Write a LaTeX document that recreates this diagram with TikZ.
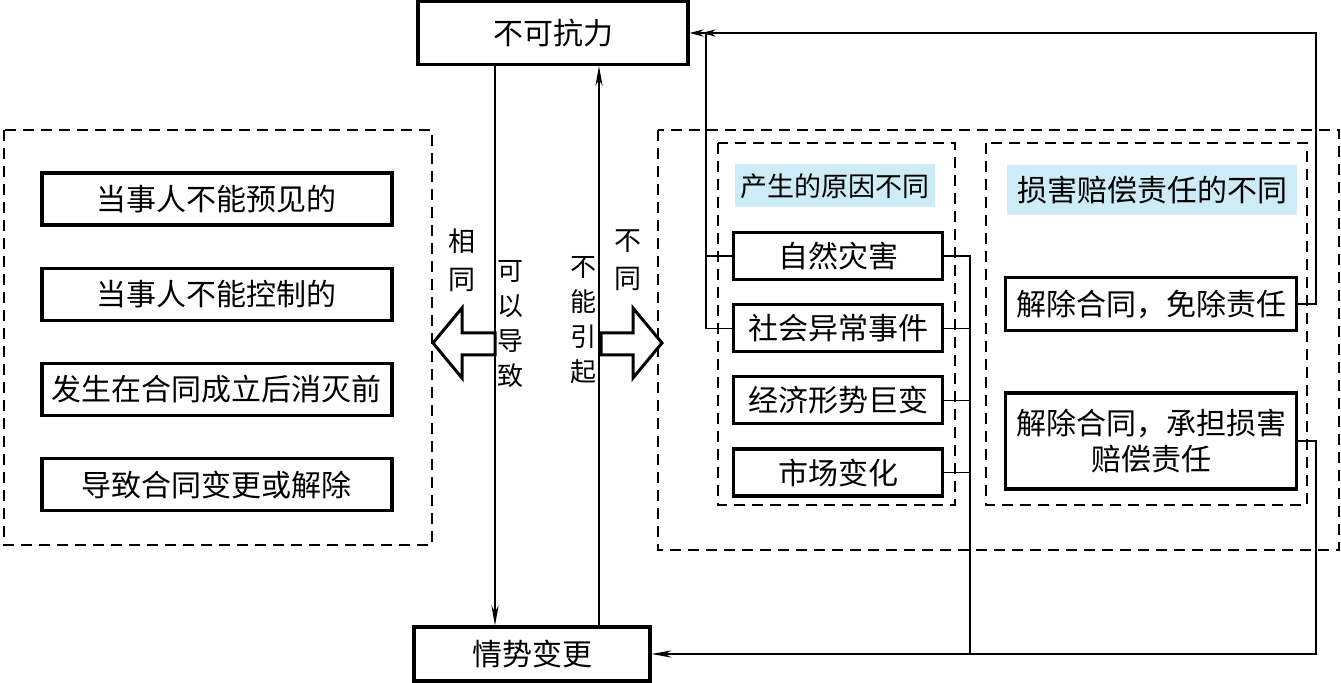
\documentclass[tikz,border=0pt]{standalone}
\usepackage{fontspec}
\setmainfont{Noto Sans CJK SC}
\usetikzlibrary{arrows.meta,positioning}
\definecolor{hdrblue}{RGB}{206,236,247}

\begin{document}
\begin{tikzpicture}[
  x=0.5pt,y=-0.5pt,
  box/.style={draw,line width=1.6pt,inner sep=0pt,font=\fontsize{15}{18}\selectfont},
  item/.style={box,minimum width=175pt,minimum height=26pt},
  cause/.style={box,minimum width=104.5pt,minimum height=23.5pt},
  result/.style={box,minimum width=145.5pt,align=center},
  header/.style={fill=hdrblue,inner sep=0pt},
  group/.style={draw,line width=.6pt,dash pattern=on 5.5pt off 3.5pt},
  link/.style={line width=.6pt},
  tip/.style={-{Stealth[length=10pt,width=3.6pt]}},
  dtip/.style={-{Stealth[length=7pt,width=3.6pt,sep=-1pt] Stealth[length=7pt,width=3.6pt]}},
  hollow/.style={draw,line width=1.5pt,line join=miter},
  vlabel/.style={align=center,inner sep=0pt,font=\fontsize{13}{17.5}\selectfont}
]
  \useasboundingbox (0,0) rectangle (1341,683);

  \node[box,minimum width=135pt,minimum height=31.5pt] (force) at (553,33) {不可抗力};
  \node[box,minimum width=118pt,minimum height=27pt] (change) at (532,654) {情势变更};

  % common features
  \draw[group] (4,130) rectangle (432,545);
  \node[item] (foresee) at (217,199) {当事人不能预见的};
  \node[item,below=20pt of foresee] (control) {当事人不能控制的};
  \node[item,below=20pt of control] (period) {发生在合同成立后消灭前};
  \node[item,below=20pt of period] (outcome) {导致合同变更或解除};

  % differences
  \draw[group] (658,130) rectangle (1339,550);
  \draw[group] (718,143) rectangle (955,505);
  \draw[group] (986,143) rectangle (1307,505);
  \node[header,minimum width=100pt,minimum height=21.5pt,
        font=\fontsize{13.5}{16}\selectfont] (why) at (835,186) {产生的原因不同};
  \node[header,minimum width=145pt,minimum height=25pt,
        font=\fontsize{15}{18}\selectfont] (duty) at (1152,190) {损害赔偿责任的不同};

  \node[cause] (nature) at (838,256) {自然灾害};
  \node[cause,below=11pt of nature] (society) {社会异常事件};
  \node[cause,below=11pt of society] (economy) {经济形势巨变};
  \node[cause,below=11pt of economy] (market) {市场变化};

  \node[result,minimum height=26.5pt] (exempt) at (1151,304) {解除合同，免除责任};
  \node[result,minimum height=48pt] (liable) at (1151,441) {解除合同，承担损害\\赔偿责任};

  % vertical labels
  \node[vlabel,font=\fontsize{13.5}{19}\selectfont] (same) at (462,260) {相\\同};
  \node[vlabel] (cancause) at (510,324) {可\\以\\导\\致};
  \node[vlabel] (cannot) at (583,320) {不\\能\\引\\起};
  \node[vlabel,font=\fontsize{13.5}{19}\selectfont] (differ) at (628,260) {不\\同};

  \coordinate (down) at (495,0);
  \coordinate (up) at (599,0);
  \coordinate (lj) at (706,0);
  \coordinate (mj) at (970,0);
  \coordinate (rj) at (1316,0);

  \draw[link,tip] (down |- force.south) -- (down |- change.north);
  \draw[link,tip] (up |- change.north) -- (up |- force.south);

  \draw[hollow] (495,333) -- (462,333) -- (462,308) -- (433,343)
    -- (462,378) -- (462,355) -- (495,355) -- cycle;
  \draw[hollow] (601,333) -- (633,333) -- (633,308) -- (662,343)
    -- (633,378) -- (633,355) -- (601,355) -- cycle;

  \draw[link,dtip] (exempt.east) -| (rj |- force.east) -- (force.east);
  \draw[link] (society.west) -| (lj |- force.east);
  \draw[link] (nature.west) -- (nature.west -| lj);

  \draw[link] (nature.east) -| (mj |- change.east);
  \foreach \c in {society,economy,market}
    \draw[link] (\c.east) -- (\c.east -| mj);
  \draw[link,tip] (liable.east) -| (rj |- change.east) -- (change.east);
\end{tikzpicture}
\end{document}
